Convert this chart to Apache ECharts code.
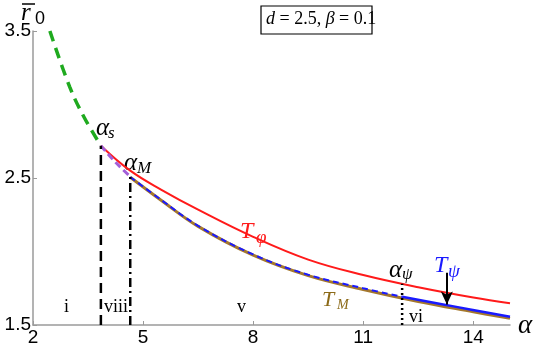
<!DOCTYPE html>
<html>
<head>
<meta charset="utf-8">
<script src="https://cdn.jsdelivr.net/npm/echarts@6/dist/echarts.min.js"></script>
<style>
  html, body { margin: 0; padding: 0; background: #fff; }
  #chart { width: 538px; height: 352px; }
</style>
</head>
<body>
<div id="chart"></div>
<script>
// tick labels
const xTicks = [2, 5, 8, 11, 14]
const yTicks = [1.5, 2.5, 3.5]

// green dashed branch (alpha < alpha_s)
const greenX = [2.46, 3.0, 3.4, 3.85]
const greenY = [3.5, 3.12, 2.91, 2.72]

// T_phi (red)
const redX = [3.85, 4.65, 5.5, 6.5, 8, 9.5, 11, 12.5, 14, 15]
const redY = [2.72, 2.55, 2.42, 2.285, 2.10, 1.945, 1.84, 1.757, 1.687, 1.648]

// purple dashed piece between alpha_s and alpha_M
const purpleX = [3.85, 4.25, 4.65]
const purpleY = [2.72, 2.607, 2.51]

// T_M (brown)
const brownX = [4.65, 5.5, 6.5, 8, 9.5, 11, 12.5, 14, 15]
const brownY = [2.505, 2.347, 2.171, 1.975, 1.836, 1.742, 1.66, 1.59, 1.545]

// T_psi (blue): dashed up to alpha_psi, solid after
const blueDashX = [4.65, 5.5, 6.5, 8, 9.5, 11, 12.06]
const blueDashY = [2.507, 2.35, 2.175, 1.98, 1.842, 1.75, 1.692]
const blueSolidX = [12.06, 13.5, 15]
const blueSolidY = [1.692, 1.625, 1.556]

// special alphas and the heights their markers reach
const alphaS = 3.85, alphaSTop = 2.72
const alphaM = 4.65, alphaMTop = 2.53
const alphaPsi = 12.06, alphaPsiTop = 1.78

// arrow pointing at T_psi
const arrowX = 13.28
const arrowY = [1.855, 1.64]

const zip = (xs, ys) => xs.map((x, i) => [x, ys[i]])

const MATH = 'Liberation Serif'

function lineSeries(xs, ys, color, width, type, z) {
  return {
    type: 'line',
    data: zip(xs, ys),
    showSymbol: false,
    smooth: 0.4,
    z: z || 2,
    lineStyle: { color, width, type },
  }
}

function vline(x, top, type) {
  return {
    type: 'line',
    data: [[x, 1.5], [x, top]],
    showSymbol: false,
    z: 5,
    lineStyle: { color: '#000', width: 2.5, type },
  }
}

// math label: main glyph + subscript
function mathLabel(x, y, main, sub, color, mainSize, subX, subY, subSize) {
  return [
    {
      type: 'text', left: x, top: y,
      style: { text: main, fill: color, font: `italic ${mainSize}px "${MATH}"` },
    },
    {
      type: 'text', left: subX, top: subY,
      style: { text: sub, fill: color, font: `italic ${subSize}px "${MATH}"` },
    },
  ]
}

function roman(text, x, y) {
  return {
    type: 'text', left: x, top: y,
    style: { text, fill: '#000', font: `18px "${MATH}"` },
  }
}

const chart = echarts.init(document.getElementById('chart'))

chart.setOption({
  animation: false,
  grid: { left: 33, right: 28, top: 31, bottom: 27 },
  xAxis: {
    type: 'value',
    min: 2,
    max: 15,
    splitLine: { show: false },
    axisLine: { lineStyle: { color: '#9a9a9a', width: 1.5 } },
    axisTick: { inside: true, length: 4, customValues: xTicks, lineStyle: { color: '#9a9a9a' } },
    axisLabel: {
      customValues: xTicks,
      margin: 3,
      color: '#000',
      fontSize: 19,
      fontFamily: 'Liberation Sans',
    },
  },
  yAxis: {
    type: 'value',
    min: 1.5,
    max: 3.5,
    splitLine: { show: false },
    axisLine: { show: true, lineStyle: { color: '#9a9a9a', width: 1.5 } },
    axisTick: { show: true, inside: true, length: 4, customValues: yTicks, lineStyle: { color: '#9a9a9a' } },
    axisLabel: {
      customValues: yTicks,
      margin: 2,
      color: '#000',
      fontSize: 19,
      fontFamily: 'Liberation Sans',
      formatter: (v) => v.toFixed(1),
    },
  },
  series: [
    lineSeries(greenX, greenY, '#1faa1f', 3.5, [11, 7], 3),
    lineSeries(redX, redY, '#ff1a1a', 2, 'solid', 3),
    lineSeries(brownX, brownY, '#a5782c', 3, 'solid', 2),
    lineSeries(blueDashX, blueDashY, '#1a1aff', 2, [6, 4], 4),
    Object.assign(lineSeries(blueSolidX, blueSolidY, '#1a1aff', 2.5, 'solid', 4), {
      markLine: {
        silent: true,
        symbol: ['none', 'arrow'],
        symbolSize: [9, 13],
        label: { show: false },
        lineStyle: { color: '#000', width: 2, type: 'solid' },
        data: [[{ coord: [arrowX, arrowY[0]] }, { coord: [arrowX, arrowY[1]] }]],
      },
    }),
    lineSeries(purpleX, purpleY, '#a35fd8', 3, [7, 4], 4),
    vline(alphaS, alphaSTop, [10, 6]),
    vline(alphaM, alphaMTop, [9, 4, 2, 4]),
    vline(alphaPsi, alphaPsiTop, [2, 3]),
  ],
  graphic: [
    // y axis title r-bar_0
    { type: 'text', left: 21, top: 1, style: { text: 'r', fill: '#000', font: `italic 25px "${MATH}"` } },
    { type: 'line', shape: { x1: 22, y1: 4, x2: 35, y2: 4 }, style: { stroke: '#000', lineWidth: 1.5 } },
    { type: 'text', left: 35, top: 10, style: { text: '0', fill: '#000', font: '18px "Liberation Sans"' } },
    // x axis name
    { type: 'text', left: 518, top: 312, style: { text: 'α', fill: '#000', font: `italic 27px "${MATH}"` } },
    // parameter box
    {
      type: 'rect', shape: { x: 261, y: 6, width: 111, height: 28 },
      style: { fill: '#fff', stroke: '#000', lineWidth: 1.2 },
    },
    {
      type: 'text', left: 266, top: 10,
      style: {
        text: '{i|d} = 2.5, {i|β} = 0.1',
        fill: '#000',
        font: `18px "${MATH}"`,
        rich: { i: { fontStyle: 'italic', fontSize: 18, fontFamily: MATH } },
      },
    },
    ...mathLabel(96, 116, 'α', 's', '#000', 25, 108, 125, 17),
    ...mathLabel(124, 151, 'α', 'M', '#000', 25, 137, 160, 17),
    ...mathLabel(389, 258, 'α', 'ψ', '#000', 25, 402, 266, 17),
    ...mathLabel(240, 220, 'T', 'φ', '#ff1a1a', 24, 256, 228, 19),
    ...mathLabel(322, 289, 'T', 'M', '#8c6a18', 22, 337, 298, 14),
    ...mathLabel(434, 254, 'T', 'ψ', '#1a1aff', 24, 448, 262, 19),
    roman('i', 64, 298),
    roman('viii', 104, 298),
    roman('v', 237, 298),
    roman('vi', 409, 308),
  ],
})
</script>
</body>
</html>
